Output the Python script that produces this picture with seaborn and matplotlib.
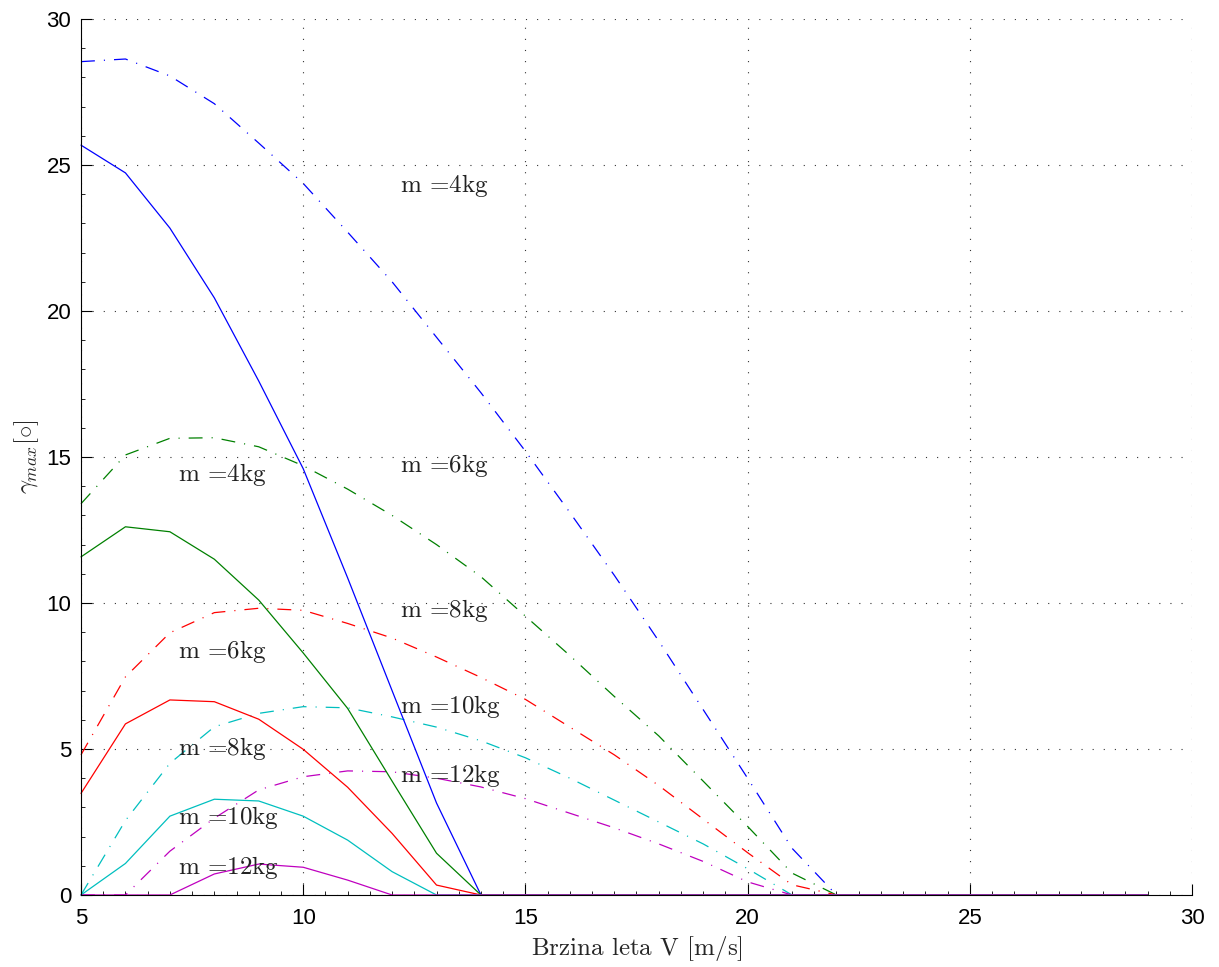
import numpy as np
import pandas as pd
import matplotlib
matplotlib.use("Agg")
import matplotlib.pyplot as plt
import seaborn as sns
from matplotlib.ticker import MultipleLocator

# flight speed V [m/s]
speed = list(range(5, 30))

# solid curves (max climb angle, first case)
solid_4kg = [25.68, 24.73, 22.84, 20.45, 17.6, 14.6, 10.86, 7.0, 3.15, 0]
solid_6kg = [11.58, 12.61, 12.44, 11.5, 10.1, 8.29, 6.39, 3.9, 1.43, 0]
solid_8kg = [3.48, 5.86, 6.68, 6.62, 6.02, 4.99, 3.69, 2.11, 0.34, 0]
solid_10kg = [0, 1.08, 2.7, 3.28, 3.22, 2.7, 1.88, 0.8, 0, 0]
solid_12kg = [0, 0, 0, 0.72, 1.06, 0.95, 0.51, 0, 0, 0]

# dash-dot curves (second case)
dashdot_4kg = [28.54, 28.63, 28.05, 27.1, 25.75, 24.37, 22.7, 21.0, 19.1, 17.2,
               15.2, 13.1, 10.95, 8.7, 6.35, 4.0, 1.6, 0]
dashdot_6kg = [13.4, 15.07, 15.64, 15.66, 15.35, 14.7, 13.9, 13.0, 12.0, 10.9,
               9.55, 8.2, 6.8, 5.45, 3.9, 2.35, 0.75, 0]
dashdot_8kg = [4.8, 7.47, 8.98, 9.67, 9.82, 9.75, 9.3, 8.8, 8.15, 7.45,
               6.7, 5.75, 4.8, 3.75, 2.6, 1.45, 0.35, 0]
dashdot_10kg = [0, 2.55, 4.51, 5.76, 6.22, 6.45, 6.41, 6.1, 5.75, 5.28,
                4.7, 4.0, 3.25, 2.5, 1.75, 0.9, 0, 0]
dashdot_12kg = [0, 0, 1.5, 2.63, 3.6, 4.05, 4.25, 4.22, 4.0, 3.7,
                3.3, 2.8, 2.3, 1.75, 1.15, 0.45, 0, 0]

colors = ['#0000ff', '#008000', '#ff0000', '#00bfbf', '#bf00bf']
mass_labels = ['m =4kg', 'm =6kg', 'm =8kg', 'm =10kg', 'm =12kg']
left_label_y = [14.4, 8.35, 5.0, 2.65, 0.95]
right_label_y = [24.3, 14.7, 9.75, 6.45, 4.1]


def pad_zero(vals):
    # curves stay at zero up to the last speed
    return vals + [0] * (len(speed) - len(vals))


def cm_text(s):
    # plain computer-modern text (no math spacing around '=')
    return r'$\text{' + s + '}$'


sns.set_style("white")
plt.rcParams['mathtext.fontset'] = 'cm'
plt.rcParams['font.family'] = ['Liberation Sans', 'DejaVu Sans']
plt.rcParams['lines.scale_dashes'] = False

fig = plt.figure(figsize=(12.19, 9.67), dpi=100)
ax = fig.add_axes([81 / 1219, 72 / 967, 1111 / 1219, 876 / 967])

dashdot = (0, (10, 6.5, 0.8, 6.5))
for vals, c in zip([dashdot_4kg, dashdot_6kg, dashdot_8kg, dashdot_10kg, dashdot_12kg], colors):
    sns.lineplot(x=speed, y=pad_zero(vals), color=c, linewidth=0.9, linestyle=dashdot,
                 ax=ax, legend=False, estimator=None, sort=False, clip_on=False)
for vals, c in zip([solid_4kg, solid_6kg, solid_8kg, solid_10kg, solid_12kg], colors):
    sns.lineplot(x=speed, y=pad_zero(vals), color=c, linewidth=0.9,
                 ax=ax, legend=False, estimator=None, sort=False, clip_on=False)

for lab, yl, yr in zip(mass_labels, left_label_y, right_label_y):
    ax.text(7.18, yl, cm_text(lab), fontsize=18, va='center', ha='left', color='#222222')
    ax.text(12.18, yr, cm_text(lab), fontsize=18, va='center', ha='left', color='#222222')

ax.set_xlim(5, 30)
ax.set_ylim(0, 30)
ax.xaxis.set_major_locator(MultipleLocator(5))
ax.yaxis.set_major_locator(MultipleLocator(5))
ax.xaxis.set_minor_locator(MultipleLocator(0.5))
ax.yaxis.set_minor_locator(MultipleLocator(1))
ax.tick_params(which='both', bottom=True, left=True, top=False, right=False)
ax.tick_params(which='major', direction='in', length=8, width=0.8, labelsize=16, pad=9,
               colors='black')
ax.tick_params(which='minor', direction='in', length=3, width=0.6, colors='black')
ax.tick_params(axis='y', which='major', pad=7)

ax.grid(True, which='major', color='#333333', linewidth=0.8, linestyle=(0, (0.8, 7.2)))
for side in ['top', 'right']:
    ax.spines[side].set_visible(False)
for side in ['left', 'bottom']:
    ax.spines[side].set_linewidth(0.8)
    ax.spines[side].set_color('black')

ax.set_xlabel(cm_text('Brzina leta V [m/s]'), fontsize=18, labelpad=4)
ax.set_ylabel(r'$\gamma_{max}[\circ]$', fontsize=18, labelpad=4)

fig.savefig('out.png', dpi=100)
